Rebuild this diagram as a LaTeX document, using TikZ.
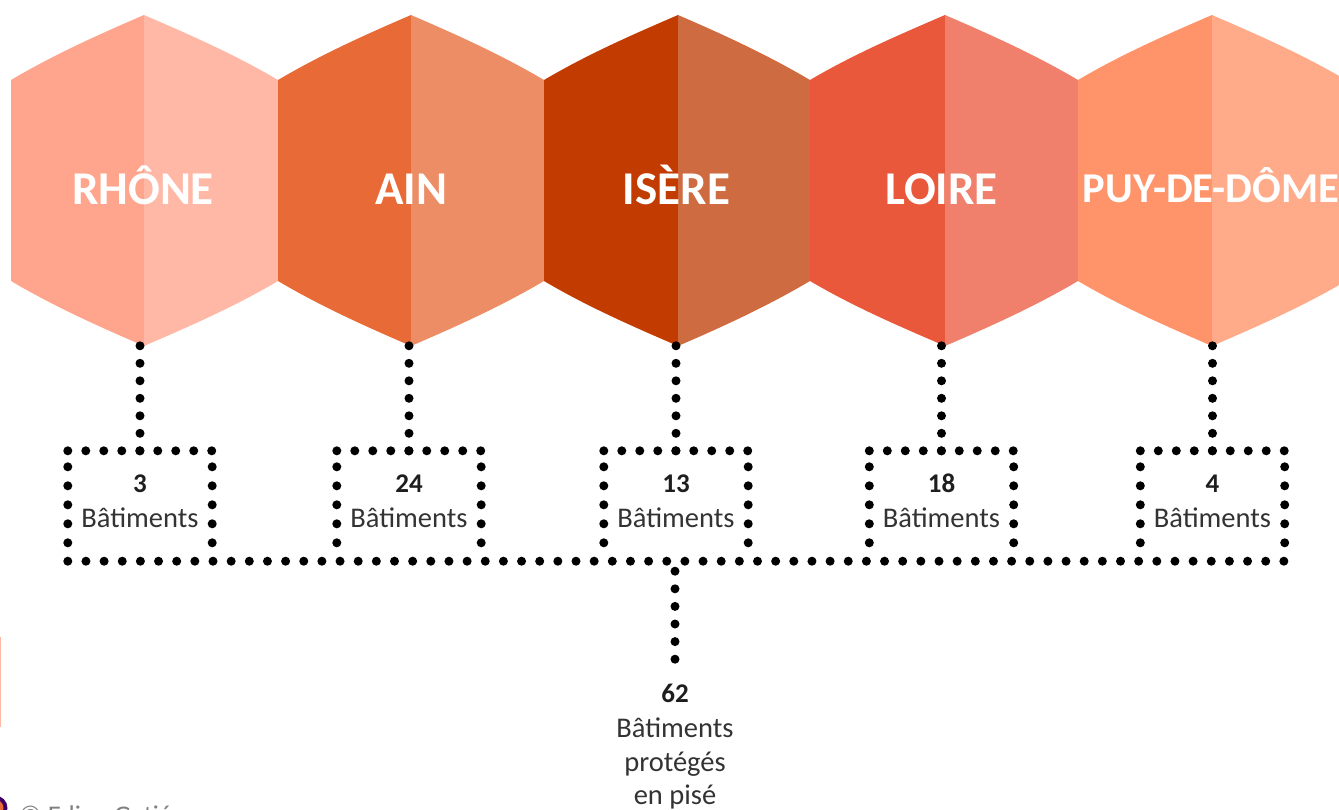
\documentclass[tikz,border=0pt]{standalone}
\usepackage{fontspec}
\setmainfont{Carlito}
\definecolor{hAl}{HTML}{FFA58D}\definecolor{hAr}{HTML}{FFB8A6}
\definecolor{hBl}{HTML}{E86A36}\definecolor{hBr}{HTML}{EC8D66}
\definecolor{hCl}{HTML}{C23B00}\definecolor{hCr}{HTML}{CF6B40}
\definecolor{hDl}{HTML}{E9583A}\definecolor{hDr}{HTML}{F0806B}
\definecolor{hEl}{HTML}{FF9369}\definecolor{hEr}{HTML}{FFAB8A}
\definecolor{inkc}{HTML}{333333}
\definecolor{numc}{HTML}{1E1E1E}
\tikzset{
  dotrow/.style={draw=black,line width=9pt,line cap=round,dash pattern=on 0pt off #1},
  hexname/.style={text=white,font=\fontsize{47}{47}\selectfont\bfseries,inner sep=0pt,anchor=base},
  hexnamesmall/.style={text=white,font=\fontsize{42.5}{42.5}\selectfont\bfseries,inner sep=0pt,anchor=base},
  numlabel/.style={text=numc,font=\fontsize{27}{27}\selectfont\bfseries,inner sep=0pt,anchor=base},
  wordlabel/.style={text=inkc,font=\fontsize{28.5}{28.5}\selectfont,inner sep=0pt,anchor=base},
  boxarea/.style={minimum width=144pt,minimum height=110pt,inner sep=0pt},
}
% #1 mid x, #2 left x, #3 right x, #4 left colour, #5 right colour
\newcommand{\halfhex}[5]{%
  \fill[#4] (#2,80) .. controls (#2+44,54) and (#1-44,34) .. (#1,15) -- (#1,346) .. controls (#1-44,327) and (#2+44,307) .. (#2,281) -- cycle;
  \fill[#5] (#1,15) .. controls (#1+44,34) and (#3-44,54) .. (#3,80) -- (#3,281) .. controls (#3-44,307) and (#1+44,327) .. (#1,346) -- cycle;
}
\begin{document}
\begin{tikzpicture}[x=1pt,y=-1pt]
\useasboundingbox (0,0) rectangle (1339,809);
\begin{scope}
\clip (0,0) rectangle (1339,809);
\halfhex{144}{11}{278}{hAl}{hAr}
\halfhex{411}{278}{544}{hBl}{hBr}
\halfhex{678}{544}{810}{hCl}{hCr}
\halfhex{945}{810}{1078}{hDl}{hDr}
\halfhex{1212}{1078}{1346}{hEl}{hEr}
\fill[hAr] (0,637) rectangle (1.2,727);
\fill[black!60!red!60!blue] (-5,808) circle (12.5);
\fill[hBl] (-5,808) circle (8.5);
\node[anchor=base west,text=gray,font=\fontsize{27}{27}\selectfont\rmfamily,inner sep=0pt] (credit) at (19,824) {© Edina Gatié};
\end{scope}
\node[hexname] (rhone) at (143,204) {RHÔNE};
\node[hexname] (ain) at (411,204) {AIN};
\node[hexname] (isere) at (676.5,204) {ISÈRE};
\node[hexname] (loire) at (941.5,204) {LOIRE};
\node[hexnamesmall] (puy) at (1211,202) {PUY-DE-DÔME};
\node[boxarea] (b1) at (140,506) {};
\node[boxarea] (b2) at (409,506) {};
\node[boxarea] (b3) at (676,506) {};
\node[boxarea] (b4) at (941.5,506) {};
\node[boxarea] (b5) at (1212.5,506) {};
\foreach \b/\n in {b1/3,b2/24,b3/13,b4/18,b5/4}{
  \coordinate (tip) at ([yshift=105pt]\b.north);
  \draw[dotrow=17.5pt] (tip) -- (\b.north);
  \draw[dotrow=17.99pt] (\b.north west) -- ([xshift=0.5pt]\b.north east);
  \draw[dotrow=19pt] ([yshift=-16pt]\b.north west) -- ([yshift=17.5pt]\b.south west);
  \draw[dotrow=19pt] ([yshift=-16pt]\b.north east) -- ([yshift=17.5pt]\b.south east);
  \node[numlabel] at ([yshift=14pt]\b.center) {\n};
  \node[wordlabel] at ([yshift=-21pt]\b.center) {Bâtiments};
}
\draw[dotrow=18.15pt] (b1.south west) -- ([xshift=0.5pt]b5.south east);
\node[numlabel] (total) at (675,702) {62};
\node[wordlabel] (w1) at (675,737) {Bâtiments};
\node[wordlabel] (w2) at (675,771) {protégés};
\node[wordlabel] (w3) at (675,804.5) {en pisé};
\coordinate (drop) at ([yshift=-10pt]b3.south -| total);
\draw[dotrow=17.6pt] (drop) -- ([yshift=21pt]total.north);
\end{tikzpicture}
\end{document}
